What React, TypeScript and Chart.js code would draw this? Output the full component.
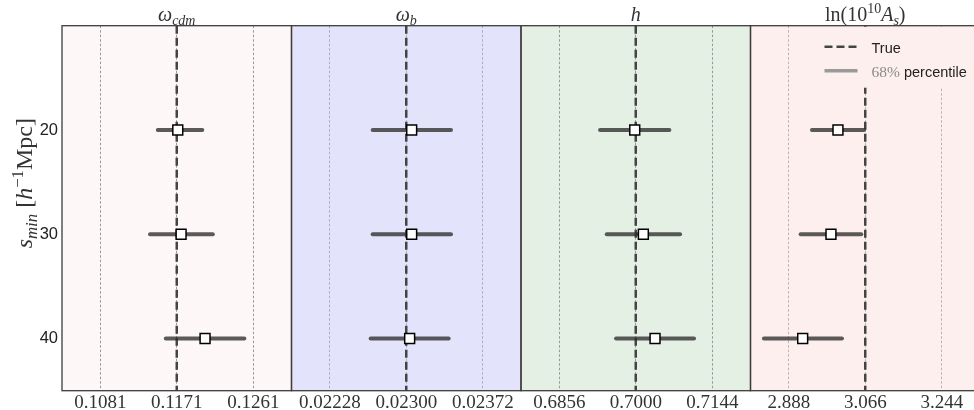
import React, { useEffect, useRef } from 'react';
import { Chart, registerables } from 'chart.js';

Chart.register(...registerables);

// ---------- data ----------
const sMinValues = [20, 30, 40];
const yTickValues = [20, 30, 40];
const yRange = [10, 45];

const trueValues = [0.1171, 0.023, 0.7, 3.066];
const tickSteps = [0.009, 0.00072, 0.0144, 0.178];
const tickDecimals = [4, 5, 4, 3];

const omegaCdmMedian = [0.11722, 0.11761, 0.12043];
const omegaCdmLow = [0.11487, 0.11396, 0.11581];
const omegaCdmHigh = [0.12011, 0.12134, 0.12505];

const omegaBMedian = [0.023051, 0.023051, 0.023032];
const omegaBLow = [0.022684, 0.022684, 0.022665];
const omegaBHigh = [0.023421, 0.023421, 0.023399];

const hMedian = [0.69981, 0.70143, 0.70363];
const hLow = [0.69328, 0.69454, 0.69629];
const hHigh = [0.70633, 0.70834, 0.71097];

const lnAsMedian = [3.0025, 2.9862, 2.9204];
const lnAsLow = [2.942, 2.9157, 2.8303];
const lnAsHigh = [3.063, 3.0567, 3.0118];

const medians = [omegaCdmMedian, omegaBMedian, hMedian, lnAsMedian];
const lows = [omegaCdmLow, omegaBLow, hLow, lnAsLow];
const highs = [omegaCdmHigh, omegaBHigh, hHigh, lnAsHigh];

type Seg = { t: string; it?: boolean; sub?: boolean; sup?: boolean };
const panelTitles: Seg[][] = [
  [{ t: 'ω', it: true }, { t: 'cdm', it: true, sub: true }],
  [{ t: 'ω', it: true }, { t: 'b', it: true, sub: true }],
  [{ t: 'h', it: true }],
  [{ t: 'ln(10' }, { t: '10', sup: true }, { t: 'A', it: true }, { t: 's', it: true, sub: true }, { t: ')' }],
];
const yTitle: Seg[] = [
  { t: 's', it: true },
  { t: 'min', it: true, sub: true },
  { t: ' [' },
  { t: 'h', it: true },
  { t: '−1', sup: true },
  { t: 'Mpc]' },
];
const legendTrue = 'True';
const legendPctNum = '68%';
const legendPctText = ' percentile';

// ---------- styles ----------
const SERIF = '"Liberation Serif", "Times New Roman", serif';
const SANS = '"Liberation Sans", Arial, sans-serif';
const panelBg = ['#fdf7f7', '#e3e3fb', '#e5f0e5', '#fdefed'];
const gridColors = ['#8c8c8c', '#a6a6b8', '#8a8f8a', '#b3aaaa'];

function drawRich(ctx: CanvasRenderingContext2D, segs: Seg[], cx: number, y: number, size: number, color: string) {
  const parts = segs.map((s) => {
    const fs = s.sub || s.sup ? size * 0.7 : size;
    const font = `${s.it ? 'italic ' : ''}${fs}px ${SERIF}`;
    ctx.font = font;
    const w = ctx.measureText(s.t).width;
    const dy = s.sub ? size * 0.2 : s.sup ? -size * 0.38 : 0;
    return { s, font, w, dy };
  });
  const total = parts.reduce((a, p) => a + p.w, 0);
  let x = cx - total / 2;
  ctx.fillStyle = color;
  ctx.textAlign = 'left';
  ctx.textBaseline = 'alphabetic';
  for (const p of parts) {
    ctx.font = p.font;
    ctx.fillText(p.s.t, x, y + p.dy);
    x += p.w;
  }
}

const panelPlugin = {
  id: 'panels',
  beforeDraw(chart: any) {
    const { ctx, chartArea } = chart;
    ctx.save();
    for (let p = 0; p < 4; p++) {
      const s = chart.scales['x' + p];
      ctx.fillStyle = panelBg[p];
      ctx.fillRect(s.left, chartArea.top, s.right - s.left, chartArea.bottom - chartArea.top);
    }
    ctx.restore();
  },
  afterDatasetsDraw(chart: any) {
    const { ctx, chartArea } = chart;
    const s3 = chart.scales.x3;
    ctx.save();
    // legend box (opaque, same colour as panel)
    const lx = s3.left + 58;
    ctx.fillStyle = panelBg[3];
    ctx.fillRect(lx, chartArea.top + 1, s3.right - lx, 61);
    // legend handles
    const hx0 = s3.left + 74;
    const hx1 = s3.left + 107;
    const r1 = chartArea.top + 21;
    const r2 = chartArea.top + 45;
    ctx.lineCap = 'butt';
    ctx.strokeStyle = '#444';
    ctx.lineWidth = 2.5;
    ctx.setLineDash([8, 4]);
    ctx.beginPath();
    ctx.moveTo(hx0, r1);
    ctx.lineTo(hx1, r1);
    ctx.stroke();
    ctx.setLineDash([]);
    ctx.strokeStyle = '#9a9a9a';
    ctx.lineWidth = 3.5;
    ctx.beginPath();
    ctx.moveTo(hx0, r2);
    ctx.lineTo(hx1, r2);
    ctx.stroke();
    // legend text
    const tx = s3.left + 121;
    ctx.textAlign = 'left';
    ctx.textBaseline = 'alphabetic';
    ctx.fillStyle = '#222';
    ctx.font = `14.5px ${SANS}`;
    ctx.fillText(legendTrue, tx, chartArea.top + 27.6);
    ctx.font = `15.5px ${SERIF}`;
    ctx.fillStyle = '#8a8a8a';
    ctx.fillText(legendPctNum, tx, chartArea.top + 51);
    const w = ctx.measureText(legendPctNum).width;
    ctx.font = `14.5px ${SANS}`;
    ctx.fillStyle = '#222';
    ctx.fillText(legendPctText, tx + w, chartArea.top + 51);
    // panel borders
    ctx.strokeStyle = '#3c3c3c';
    ctx.lineWidth = 1.3;
    for (let p = 0; p < 4; p++) {
      const s = chart.scales['x' + p];
      ctx.strokeRect(s.left, chartArea.top, s.right - s.left, chartArea.bottom - chartArea.top);
    }
    ctx.restore();
  },
  afterDraw(chart: any) {
    const { ctx, chartArea } = chart;
    ctx.save();
    for (let p = 0; p < 4; p++) {
      const s = chart.scales['x' + p];
      drawRich(ctx, panelTitles[p], (s.left + s.right) / 2, chartArea.top - 5, 20, '#333');
    }
    ctx.translate(32, (chartArea.top + chartArea.bottom) / 2 - 25);
    ctx.rotate(-Math.PI / 2);
    drawRich(ctx, yTitle, 0, 0, 24, '#333');
    ctx.restore();
  },
};

export default function App() {
  const ref = useRef<HTMLCanvasElement>(null);

  useEffect(() => {
    const canvas = ref.current;
    if (!canvas) return;
    const datasets: any[] = [];
    const scales: any = {
      y: {
        type: 'linear',
        position: 'left',
        min: yRange[0],
        max: yRange[1],
        reverse: true,
        afterBuildTicks: (s: any) => {
          s.ticks = yTickValues.map((v) => ({ value: v }));
        },
        afterFit: (s: any) => {
          s.width = 62;
          s.paddingTop = 0;
          s.paddingBottom = 0;
        },
        grid: { display: false, drawTicks: false },
        border: { display: false },
        ticks: { font: { family: SANS, size: 16.5 }, color: '#222', padding: 4 },
      },
    };
    for (let p = 0; p < 4; p++) {
      const xid = 'x' + p;
      const t = trueValues[p];
      const st = tickSteps[p];
      const dec = tickDecimals[p];
      scales[xid] = {
        type: 'linear',
        axis: 'x',
        position: 'bottom',
        stack: 'panels',
        stackWeight: 1,
        min: t - 1.5 * st,
        max: t + 1.5 * st,
        afterBuildTicks: (s: any) => {
          s.ticks = [t - st, t, t + st].map((v) => ({ value: v }));
        },
        afterFit: (s: any) => {
          s.height = 19.3;
          s.paddingLeft = 0;
          s.paddingRight = 0;
        },
        grid: { color: gridColors[p], lineWidth: 0.9, drawTicks: false, tickLength: 0 },
        border: { display: false, dash: [2.5, 2] },
        ticks: {
          autoSkip: false,
          maxRotation: 0,
          minRotation: 0,
          padding: 1,
          font: { family: SERIF, size: 19 },
          color: '#333',
          callback: (v: any) => Number(v).toFixed(dec),
        },
      };
      datasets.push({
        data: [
          { x: t, y: yRange[0] },
          { x: t, y: yRange[1] },
        ],
        xAxisID: xid,
        yAxisID: 'y',
        showLine: true,
        borderColor: '#444',
        borderWidth: 2.5,
        borderDash: [8, 4],
        pointRadius: 0,
        order: 3,
      });
      for (let i = 0; i < sMinValues.length; i++) {
        datasets.push({
          data: [
            { x: lows[p][i], y: sMinValues[i] },
            { x: highs[p][i], y: sMinValues[i] },
          ],
          xAxisID: xid,
          yAxisID: 'y',
          showLine: true,
          borderColor: 'rgba(45,45,45,0.78)',
          borderWidth: 4,
          borderCapStyle: 'round',
          pointRadius: 0,
          order: 2,
        });
      }
      datasets.push({
        data: medians[p].map((m, i) => ({ x: m, y: sMinValues[i] })),
        xAxisID: xid,
        yAxisID: 'y',
        showLine: false,
        pointStyle: 'rect',
        pointRadius: 7,
        backgroundColor: '#ffffff',
        borderColor: '#000000',
        borderWidth: 1.5,
        order: 1,
      });
    }

    const chart = new Chart(canvas, {
      type: 'scatter',
      data: { datasets },
      options: {
        animation: false,
        responsive: false,
        events: [],
        layout: { padding: { top: 25.7, right: 10, bottom: 0, left: 0 } },
        plugins: { legend: { display: false }, tooltip: { enabled: false }, title: { display: false } },
        scales,
      },
      plugins: [panelPlugin],
    } as any);
    return () => chart.destroy();
  }, []);

  return (
    <div style={{ position: 'fixed', left: 0, top: 0, width: 974, height: 410, overflow: 'hidden', background: '#fff' }}>
      <canvas ref={ref} width={990} height={410} style={{ display: 'block', width: 990, height: 410 }} />
    </div>
  );
}
